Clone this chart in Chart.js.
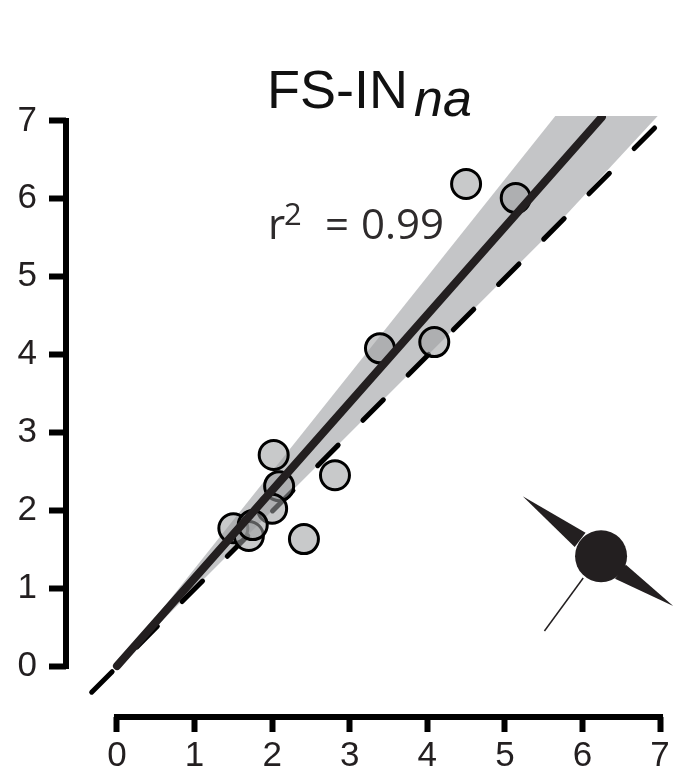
<!DOCTYPE html>
<html>
<head>
<meta charset="utf-8">
<style>
  html, body { margin: 0; padding: 0; background: #fff; }
  canvas { display: block; }
</style>
<script src="https://cdn.jsdelivr.net/npm/chart.js@4/dist/chart.umd.min.js"></script>
</head>
<body>
<canvas id="chart" width="674" height="773"></canvas>
<script>
const tickValues = [0, 1, 2, 3, 4, 5, 6, 7];
const cellX = [4.50, 5.14, 3.39, 4.09, 2.02, 2.09, 2.81, 2.00, 2.41, 1.50, 1.70, 1.75];
const cellY = [6.19, 6.01, 4.08, 4.16, 2.71, 2.31, 2.45, 2.02, 1.63, 1.77, 1.67, 1.81];
const fitLine = [[0, 0], [6.25, 7.05]];
const unityLine = [[6.93, 6.91], [-0.39, -0.40]];
const band = [[0, 0], [5.65, 7.064], [6.97, 7.064], [5.49, 5.47], [0, 0]];
const somaCentre = [[6.24, 1.41]];
const dendriteA = [[5.23, 2.18], [6.04, 1.71], [5.90, 1.53], [5.23, 2.18]];
const dendriteB = [[7.17, 0.77], [6.56, 1.30], [6.42, 1.12], [7.17, 0.77]];
const axon = [[6.01, 1.13], [5.51, 0.45]];

const ink = '#231f20';
const xy = rows => rows.map(([x, y]) => ({ x, y }));
const setTicks = scale => {
  scale.ticks = tickValues.map(value => ({ value }));
};

const axisLines = {
  id: 'axisLines',
  beforeDatasetsDraw(chart) {
    const { ctx, scales: { x, y }, chartArea } = chart;
    ctx.save();
    ctx.strokeStyle = '#000';
    ctx.lineWidth = 6;
    ctx.lineCap = 'square';
    ctx.beginPath();
    ctx.moveTo(chartArea.left, y.getPixelForValue(0));
    ctx.lineTo(chartArea.left, y.getPixelForValue(7));
    ctx.moveTo(x.getPixelForValue(0), chartArea.bottom);
    ctx.lineTo(x.getPixelForValue(7), chartArea.bottom);
    ctx.stroke();
    ctx.restore();
  },
};

const labels = {
  id: 'labels',
  afterDraw(chart) {
    const { ctx } = chart;
    ctx.save();
    ctx.fillStyle = '#111';
    ctx.textBaseline = 'alphabetic';
    ctx.font = '54px "Liberation Sans"';
    ctx.fillText('FS-IN', 267, 108);
    ctx.font = 'italic 52px "Liberation Sans"';
    ctx.fillText('na', 414, 116);
    ctx.fillStyle = '#2e2b2c';
    ctx.font = '42px "Open Sans"';
    ctx.fillText('r', 268, 239);
    ctx.fillText('0.99', 361, 239);
    ctx.fillText('=', 325, 239);
    ctx.font = '31px "Open Sans"';
    ctx.fillText('2', 284, 225);
    ctx.restore();
  },
};

const polygon = (rows, color, order) => ({
  data: xy(rows),
  showLine: true,
  fill: 'shape',
  backgroundColor: color,
  borderWidth: 0,
  pointRadius: 0,
  order,
});

new Chart(document.getElementById('chart'), {
  type: 'scatter',
  data: {
    datasets: [
      {
        data: xy(fitLine),
        showLine: true,
        borderColor: ink,
        borderWidth: 8,
        borderCapStyle: 'round',
        pointRadius: 0,
        order: 1,
      },
      {
        data: cellX.map((x, i) => ({ x, y: cellY[i] })),
        pointRadius: 14.5,
        pointBorderWidth: 3,
        pointBorderColor: '#000',
        pointBackgroundColor: 'rgba(157, 158, 160, 0.56)',
        order: 2,
      },
      {
        data: xy(unityLine),
        showLine: true,
        borderColor: '#000',
        borderWidth: 5,
        borderCapStyle: 'round',
        borderDash: [29, 35],
        pointRadius: 0,
        order: 3,
      },
      polygon(band, '#c4c5c7', 4),
      {
        data: xy(somaCentre),
        pointRadius: 26,
        pointBorderWidth: 0,
        pointBackgroundColor: ink,
        order: 5,
      },
      polygon(dendriteA, ink, 6),
      polygon(dendriteB, ink, 6),
      {
        data: xy(axon),
        showLine: true,
        borderColor: ink,
        borderWidth: 1.5,
        pointRadius: 0,
        order: 6,
      },
    ],
  },
  options: {
    responsive: false,
    animation: false,
    layout: { autoPadding: false, padding: { left: 0, top: 116, right: 0, bottom: 0 } },
    plugins: { legend: { display: false }, tooltip: { enabled: false } },
    scales: {
      x: {
        type: 'linear',
        min: -0.657,
        max: 7.18,
        afterBuildTicks: setTicks,
        afterFit: scale => {
          scale.height = 56;
        },
        border: { display: false },
        grid: { drawOnChartArea: false, tickLength: 15, tickWidth: 6, tickColor: '#000' },
        ticks: {
          autoSkip: false,
          maxRotation: 0,
          padding: 3,
          color: ink,
          font: { family: '"Liberation Sans"', size: 35 },
          callback: value => String(value),
        },
      },
      y: {
        type: 'linear',
        min: -0.655,
        max: 7.064,
        afterBuildTicks: setTicks,
        afterFit: scale => {
          scale.width = 66;
        },
        border: { display: false },
        grid: { drawOnChartArea: false, tickLength: 17, tickWidth: 6, tickColor: '#000' },
        ticks: {
          autoSkip: false,
          padding: 12,
          color: ink,
          font: { family: '"Liberation Sans"', size: 35 },
          callback: value => String(value),
        },
      },
    },
  },
  plugins: [axisLines, labels],
});
</script>
</body>
</html>
